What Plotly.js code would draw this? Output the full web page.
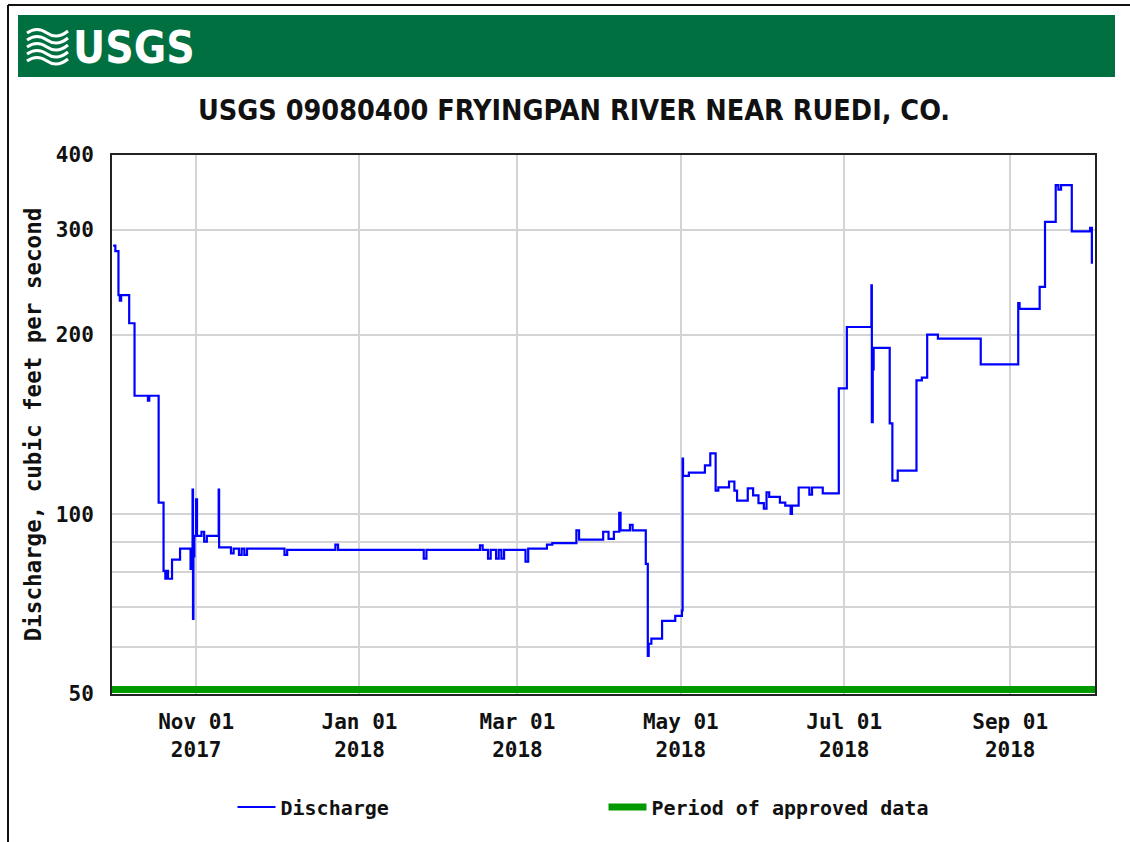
<!DOCTYPE html>
<html>
<head>
<meta charset="utf-8">
<script src="https://cdn.plot.ly/plotly-3.0.1.min.js"></script>
<style>
  html, body { margin: 0; padding: 0; background: #fff; }
  #chart { width: 1130px; height: 842px; }
</style>
</head>
<body>
<div id="chart"></div>
<script>
// discharge readings, cfs (step changes)
var flowDates = [
  "2017-10-01 00:00", "2017-10-01 20:00", "2017-10-03 00:00", "2017-10-03 12:00", "2017-10-04 00:00",
  "2017-10-07 00:00", "2017-10-09 00:00", "2017-10-14 00:00", "2017-10-14 12:00", "2017-10-18 00:00",
  "2017-10-19 20:00", "2017-10-20 12:00", "2017-10-21 00:00", "2017-10-21 12:00", "2017-10-23 00:00",
  "2017-10-26 00:00", "2017-10-29 22:00", "2017-10-30 16:00", "2017-10-30 20:00", "2017-10-31 00:00",
  "2017-10-31 08:00", "2017-11-01 00:00", "2017-11-01 08:00", "2017-11-03 00:00", "2017-11-04 00:00",
  "2017-11-05 00:00", "2017-11-09 10:00", "2017-11-09 14:00", "2017-11-14 00:00", "2017-11-15 00:00",
  "2017-11-17 00:00", "2017-11-18 00:00", "2017-11-19 00:00", "2017-11-20 00:00", "2017-12-04 00:00",
  "2017-12-05 00:00", "2017-12-23 00:00", "2017-12-24 00:00", "2018-01-25 00:00", "2018-01-26 00:00",
  "2018-02-15 00:00", "2018-02-16 00:00", "2018-02-18 00:00", "2018-02-19 00:00", "2018-02-21 00:00",
  "2018-02-22 00:00", "2018-02-23 00:00", "2018-02-24 00:00", "2018-03-04 00:00", "2018-03-05 00:00",
  "2018-03-12 00:00", "2018-03-14 00:00", "2018-03-23 00:00", "2018-03-24 00:00", "2018-04-02 00:00",
  "2018-04-04 00:00", "2018-04-06 00:00", "2018-04-08 00:00", "2018-04-08 12:00", "2018-04-12 00:00",
  "2018-04-13 00:00", "2018-04-17 22:00", "2018-04-18 16:00", "2018-04-19 00:00", "2018-04-20 00:00",
  "2018-04-24 00:00", "2018-04-28 22:00", "2018-05-01 10:00", "2018-05-01 16:00", "2018-05-01 20:00",
  "2018-05-04 00:00", "2018-05-10 00:00", "2018-05-12 00:00", "2018-05-14 00:00", "2018-05-15 00:00",
  "2018-05-19 00:00", "2018-05-21 00:00", "2018-05-22 00:00", "2018-05-26 00:00", "2018-05-28 00:00",
  "2018-05-30 00:00", "2018-06-01 00:00", "2018-06-02 00:00", "2018-06-03 00:00", "2018-06-07 00:00",
  "2018-06-09 00:00", "2018-06-11 00:00", "2018-06-11 12:00", "2018-06-14 00:00", "2018-06-18 00:00",
  "2018-06-19 00:00", "2018-06-23 00:00", "2018-06-29 00:00", "2018-07-02 00:00", "2018-07-11 04:00",
  "2018-07-11 08:00", "2018-07-11 16:00", "2018-07-12 00:00", "2018-07-18 00:00", "2018-07-19 00:00",
  "2018-07-21 00:00", "2018-07-28 00:00", "2018-07-30 00:00", "2018-08-01 00:00", "2018-08-05 00:00",
  "2018-08-21 00:00", "2018-09-04 00:00", "2018-09-04 12:00", "2018-09-12 00:00", "2018-09-14 00:00",
  "2018-09-18 00:00", "2018-09-19 00:00", "2018-09-20 00:00", "2018-09-24 00:00", "2018-09-30 20:00",
  "2018-10-01 12:00"
];
var flowCfs = [
  282, 276, 233, 228, 233,
  209, 158, 155, 158, 104.6,
  80.4, 78, 80.4, 78, 84,
  87.6, 81, 110, 66.8, 85,
  92, 106, 92, 93.5, 90,
  92, 110, 88, 86, 87.6,
  85.5, 87.6, 85.5, 87.6, 85.5,
  87.2, 89, 87.2, 84.3, 87.2,
  88.7, 87.2, 84.3, 87.2, 84.3,
  87.2, 84.3, 87.2, 83.3, 87.6,
  89, 89.5, 94, 90.7, 93.5,
  91, 93.5, 100.6, 94, 96,
  94, 82.6, 57.9, 60.7, 61.9,
  66.3, 67.6, 69, 124, 116,
  117.5, 120.8, 126.5, 109.6, 111,
  113.5, 109.6, 105.4, 110.5, 107.6,
  104.4, 102.2, 108.9, 107, 104.6,
  103.4, 100.2, 103.4, 110.9, 107.9,
  110.9, 108.4, 162.6, 206, 242,
  142.7, 175, 190, 142, 113.9,
  118.4, 167.7, 169.5, 200, 197,
  178.4, 226, 221, 240.5, 309,
  356, 350, 356, 298, 302,
  263
];

// approved-data period bar
var approvedDates = ["2017-09-30 00:00", "2018-10-03 00:00"];
var approvedLevel = [50.9, 50.9];

var monthTicks = ["2017-11-01", "2018-01-01", "2018-03-01", "2018-05-01", "2018-07-01", "2018-09-01"];
var monthLabels = ["Nov 01<br>2017", "Jan 01<br>2018", "Mar 01<br>2018", "May 01<br>2018", "Jul 01<br>2018", "Sep 01<br>2018"];
var cfsTicks = [50, 60, 70, 80, 90, 100, 200, 300, 400];
var cfsLabels = ["50", "", "", "", "", "100", "200", "300", "400"];

// plot box in page pixels
var L = 112, R = 1095, T = 155, B = 694;
function px(x) { return (x - L) / (R - L); }
function py(y) { return (B - y) / (B - T); }

var mono = { family: "DejaVu Sans Mono, monospace", size: 21, color: "#111", weight: "bold" };
var narrow = "DejaVu Sans Condensed, Liberation Sans Narrow, Arial Narrow, sans-serif";

var data = [
  {
    x: flowDates,
    y: flowCfs,
    type: "scatter",
    mode: "lines",
    name: "Discharge",
    line: { color: "#0000ff", width: 2.2, shape: "hv" }
  },
  {
    x: approvedDates,
    y: approvedLevel,
    type: "scatter",
    mode: "lines",
    name: "Period of approved data",
    line: { color: "#009900", width: 7 }
  }
];

// little wave mark for the logo
var waves = [];
for (var k = 0; k < 5; ++k) {
  var y0 = 33 + k * 7;
  var d = "M" + px(27) + "," + py(y0) +
          " Q" + px(37) + "," + py(y0 - 7) + " " + px(47) + "," + py(y0) +
          " T" + px(68) + "," + py(y0 - 2);
  waves.push({ type: "path", xref: "paper", yref: "paper", path: d,
               line: { color: "#ffffff", width: 3 }, layer: "above" });
}

var shapes = [
  // header band
  { type: "rect", xref: "paper", yref: "paper", x0: px(18), x1: px(1115), y0: py(77), y1: py(15),
    fillcolor: "#007041", line: { width: 0 }, layer: "below" },
  // page frame
  { type: "line", xref: "paper", yref: "paper", x0: px(8), x1: px(8), y0: py(5), y1: py(842),
    line: { color: "#111", width: 2 } },
  { type: "line", xref: "paper", yref: "paper", x0: px(8), x1: px(1130), y0: py(5), y1: py(5),
    line: { color: "#111", width: 2 } }
].concat(waves);

var layout = {
  width: 1130,
  height: 842,
  margin: { l: L, r: 1130 - R, t: T, b: 842 - B },
  paper_bgcolor: "#ffffff",
  plot_bgcolor: "#ffffff",
  showlegend: true,
  title: {
    text: "USGS 09080400 FRYINGPAN RIVER NEAR RUEDI, CO.",
    font: { family: narrow, size: 28.5, color: "#111", weight: "bold" },
    x: 574 / 1130, xanchor: "center",
    y: 1 - 110 / 842, yanchor: "middle"
  },
  xaxis: {
    type: "date",
    range: ["2017-09-30 14:00", "2018-10-02 16:00"],
    tickvals: monthTicks,
    ticktext: monthLabels,
    tickfont: mono,
    ticklabelstandoff: 8,
    showgrid: true,
    gridcolor: "#d4d4d4",
    gridwidth: 2,
    showline: true,
    mirror: true,
    linecolor: "#222",
    linewidth: 2,
    ticks: "",
    zeroline: false,
    fixedrange: true
  },
  yaxis: {
    type: "log",
    range: [Math.log10(50), Math.log10(400)],
    tickvals: cfsTicks,
    ticktext: cfsLabels,
    tickfont: mono,
    ticks: "outside",
    ticklen: 12,
    tickcolor: "rgba(0,0,0,0)",
    showgrid: true,
    gridcolor: "#d4d4d4",
    gridwidth: 2,
    showline: true,
    mirror: true,
    linecolor: "#222",
    linewidth: 2,
    zeroline: false,
    title: {
      text: "Discharge, cubic feet per second",
      font: { family: "DejaVu Sans Mono, monospace", size: 22.5, color: "#111", weight: "bold" },
      standoff: 8
    },
    fixedrange: true
  },
  legend: {
    orientation: "h",
    x: 0.5, xanchor: "center",
    y: py(807), yanchor: "middle",
    font: { family: "DejaVu Sans Mono, monospace", size: 20, color: "#111", weight: "bold" },
    itemwidth: 38,
    entrywidth: 318,
    bgcolor: "rgba(0,0,0,0)"
  },
  shapes: shapes,
  annotations: [
    { xref: "paper", yref: "paper", x: px(71), y: py(47), xanchor: "left", yanchor: "middle",
      text: "<b>USGS</b>", showarrow: false,
      font: { family: narrow, size: 44, color: "#ffffff" } }
  ]
};

Plotly.newPlot("chart", data, layout, { staticPlot: true });
</script>
</body>
</html>
